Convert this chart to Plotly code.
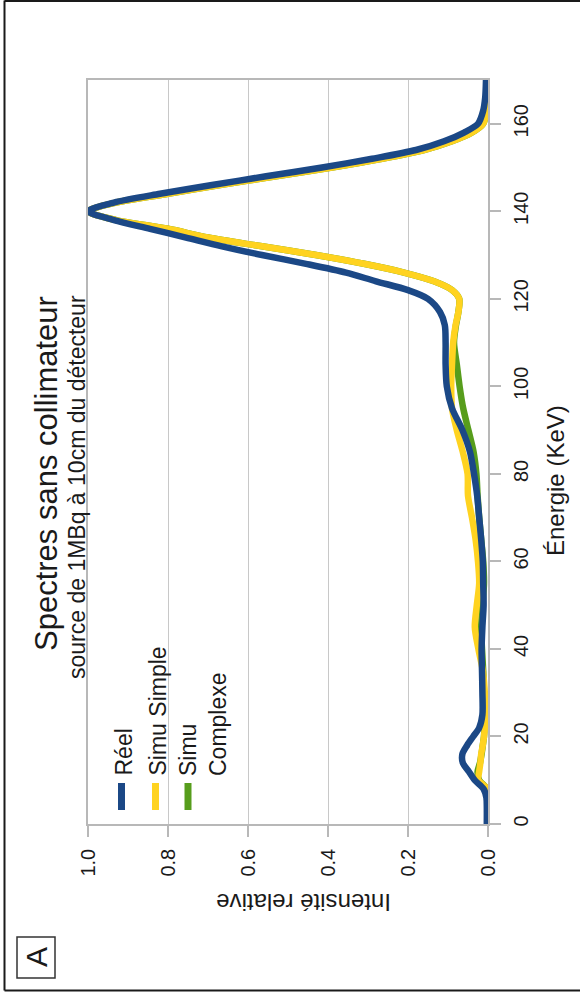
import plotly.graph_objects as go

# ---------------- data ----------------
energy_kev = [0, 4, 6, 8, 10, 12, 14, 16, 18, 20,
              22, 25, 30, 35, 40, 45, 50, 55, 60, 65,
              70, 75, 80, 85, 90, 95, 100, 105, 110, 114,
              117, 120, 122, 124, 126, 128, 130, 132, 134, 136,
              138, 140, 142, 144, 146, 148, 150, 152, 154, 156,
              158, 160, 163, 166, 170]

reel = [0.003, 0.003, 0.004, 0.011, 0.033, 0.048, 0.063, 0.064, 0.052, 0.037,
        0.022, 0.014, 0.014, 0.015, 0.016, 0.014, 0.011, 0.012, 0.013, 0.017,
        0.022, 0.027, 0.035, 0.045, 0.064, 0.090, 0.103, 0.106, 0.106, 0.108,
        0.120, 0.150, 0.200, 0.280, 0.355, 0.455, 0.565, 0.665, 0.755, 0.845,
        0.935, 1.000, 0.935, 0.820, 0.690, 0.555, 0.415, 0.290, 0.180, 0.110,
        0.060, 0.025, 0.012, 0.007, 0.005]

simu_simple = [0.0, 0.0, 0.0, 0.001, 0.024, 0.022, 0.019, 0.017, 0.013, 0.010,
               0.008, 0.008, 0.008, 0.013, 0.024, 0.033, 0.028, 0.022, 0.025, 0.031,
               0.040, 0.050, 0.051, 0.063, 0.078, 0.090, 0.092, 0.090, 0.087, 0.081,
               0.074, 0.072, 0.090, 0.135, 0.210, 0.310, 0.430, 0.565, 0.700, 0.800,
               0.930, 1.000, 0.930, 0.800, 0.670, 0.530, 0.390, 0.265, 0.160, 0.090,
               0.040, 0.012, 0.004, 0.002, 0.002]

simu_complexe = [0.0, 0.0, 0.0, 0.002, 0.022, 0.026, 0.020, 0.016, 0.013, 0.010,
                 0.009, 0.009, 0.010, 0.012, 0.015, 0.017, 0.014, 0.010, 0.012, 0.017,
                 0.022, 0.026, 0.029, 0.036, 0.049, 0.062, 0.071, 0.078, 0.085, 0.080,
                 0.074, 0.072, 0.090, 0.135, 0.210, 0.310, 0.430, 0.565, 0.700, 0.800,
                 0.930, 1.000, 0.930, 0.800, 0.670, 0.530, 0.390, 0.265, 0.160, 0.090,
                 0.040, 0.012, 0.004, 0.002, 0.002]

series_names = ["Réel", "Simu Simple", "Simu Complexe"]
intensity_ticks = [0.0, 0.2, 0.4, 0.6, 0.8, 1.0]
energy_ticks = [0, 20, 40, 60, 80, 100, 120, 140, 160]

# ---------------- styling ----------------
BLUE = "#1b4886"
YELLOW = "#ffd320"
GREEN = "#579d1c"
FONT = "Liberation Sans, Arial, sans-serif"
TXT = "#1a1a1a"
GRID = "#c8c8c8"
AXIS = "#b8b8b8"

W, H = 580, 996
L, R, T, B = 88, 488, 80, 824


def px(x):
    return (x - L) / (R - L)


def py(y):
    return (B - y) / (B - T)


fig = go.Figure()
for vals, col, name in [(simu_complexe, GREEN, series_names[2]),
                        (simu_simple, YELLOW, series_names[1]),
                        (reel, BLUE, series_names[0])]:
    fig.add_trace(go.Scatter(x=vals, y=energy_kev, mode="lines", name=name,
                             line=dict(color=col, width=6.5, shape="spline", smoothing=0.8),
                             showlegend=False, hoverinfo="skip"))

fig.update_layout(
    width=W, height=H,
    margin=dict(l=L, r=W - R, t=T, b=H - B, pad=0),
    paper_bgcolor="white", plot_bgcolor="white",
    font=dict(family=FONT, color=TXT),
    showlegend=False,
)

fig.update_xaxes(
    range=[1.0, 0.0], tickvals=intensity_ticks, tickformat=".1f",
    tickangle=-90, tickfont=dict(size=20, color=TXT, family=FONT),
    showgrid=True, gridcolor=GRID, gridwidth=1.3, zeroline=False,
    showline=True, linecolor=AXIS, linewidth=1.5, mirror=True,
    ticks="outside", ticklen=11, tickcolor=AXIS, tickwidth=1.5,
    ticklabelstandoff=4,
)
fig.update_yaxes(
    range=[0, 170], tickvals=energy_ticks, side="right",
    tickangle=-90, tickfont=dict(size=20, color=TXT, family=FONT),
    showgrid=False, zeroline=False,
    showline=True, linecolor=AXIS, linewidth=1.5, mirror=True,
    ticks="outside", ticklen=11, tickcolor=AXIS, tickwidth=1.5,
    ticklabelstandoff=3,
)

ann = []


def text(x, y, s, size, angle=-90, xa="center", ya="middle", align="center"):
    ann.append(dict(x=px(x), y=py(y), xref="paper", yref="paper", text=s,
                    showarrow=False, textangle=angle, xanchor=xa, yanchor=ya,
                    align=align, font=dict(size=size, family=FONT, color=TXT)))


# titles
text(46, 474, "Spectres sans collimateur", 31)
text(77, 487, "source de 1MBq à 10cm du détecteur", 23)
text(555, 481, "Énergie (KeV)", 24)
text(304, 903, "Intensité relative", 24, angle=180)
text(36, 957, "A", 30)

# legend texts
text(123, 778, "Réel", 23, ya="bottom")
text(157, 778, "Simu Simple", 23, ya="bottom")
text(203, 778, "Simu<br>Complexe", 23, ya="bottom", align="left")

shapes = []
# legend swatches
for xc, col in [(121.5, BLUE), (155.5, YELLOW), (188, GREEN)]:
    shapes.append(dict(type="line", xref="paper", yref="paper",
                       x0=px(xc), x1=px(xc), y0=py(783), y1=py(810),
                       line=dict(color=col, width=7)))

# "A" box
shapes.append(dict(type="rect", xref="paper", yref="paper",
                   x0=px(17), x1=px(55), y0=py(937), y1=py(978),
                   line=dict(color="#333333", width=1.5)))

# outer frame (left, top, bottom)
frame = dict(color="#1a1a1a", width=2)
shapes.append(dict(type="line", xref="paper", yref="paper",
                   x0=px(4.5), x1=px(4.5), y0=py(0.5), y1=py(990.5), line=frame))
shapes.append(dict(type="line", xref="paper", yref="paper",
                   x0=px(4.5), x1=px(580), y0=py(1), y1=py(1), line=frame))
shapes.append(dict(type="line", xref="paper", yref="paper",
                   x0=px(4.5), x1=px(580), y0=py(990.5), y1=py(990.5), line=frame))

fig.update_layout(annotations=ann, shapes=shapes)

fig.write_html("out.html")
